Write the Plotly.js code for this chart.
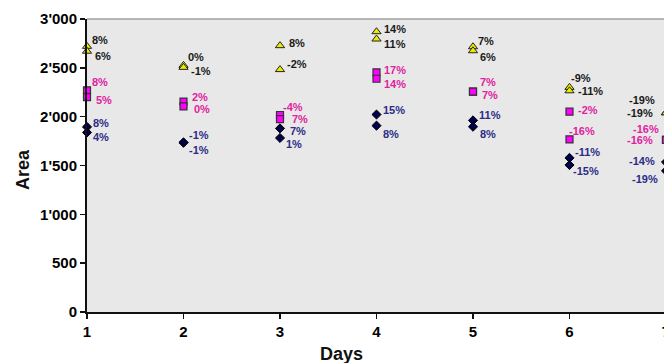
<!DOCTYPE html>
<html>
<head>
<meta charset="utf-8">
<script src="https://cdn.plot.ly/plotly-3.0.1.min.js"></script>
<style>
html, body { margin: 0; padding: 0; overflow: hidden; background: #fff; }
#chart { width: 680px; height: 363px; }
</style>
</head>
<body>
<div id="chart"></div>
<script>
// ---- data ----
const days = [1, 2, 3, 4, 5, 6, 7];

const triUpper = [2720, 2525, 2727, 2870, 2716, 2300, 2040];
const triLower = [2670, 2505, 2482, 2795, 2675, 2265, 2040];
const sqUpper  = [2270, 2155, 2017, 2454, 2256, 2051, 1762];
const sqLower  = [2200, 2105, 1975, 2388, 2256, 1768, 1762];
const diaUpper = [1895, 1735, 1880, 2022, 1962, 1578, 1535];
const diaLower = [1838, 1735, 1782, 1908, 1897, 1505, 1445];

const triUpperLbl = ['8%', '0%', '8%', '14%', '7%', '-9%', '-19%'];
const triLowerLbl = ['6%', '-1%', '-2%', '11%', '6%', '-11%', '-19%'];
const sqUpperLbl  = ['8%', '2%', '-4%', '17%', '7%', '-2%', '-16%'];
const sqLowerLbl  = ['5%', '0%', '7%', '14%', '7%', '-16%', '-16%'];
const diaUpperLbl = ['8%', '-1%', '7%', '15%', '11%', '-11%', '-14%'];
const diaLowerLbl = ['4%', '-1%', '1%', '8%', '8%', '-15%', '-19%'];

const yTickVals = [0, 500, 1000, 1500, 2000, 2500, 3000];
const yTickText = ['0', '500', "1'000", "1'500", "2'000", "2'500", "3'000"];

// ---- label placement (style: pixel offsets from each marker) ----
const labelStyle = {
  triUpper: {dx: [3, 2, 7, 5, 3, -1, -9],   dy: [6, 8, 3, 3, 6, 9, 13]},
  triLower: {dx: [6, 5, 5, 5, 5, 6, -11],   dy: [-5, -4, 6, -5, -6, 0, 0]},
  sqUpper:  {dx: [3, 6, 1, 5, 5, 6, -5],    dy: [8, 5, 8, 2, 10, 2, 11]},
  sqLower:  {dx: [7, 8, 10, 5, 7, -3, -11], dy: [-3, -3, 0, -5, -3, 8, 0]},
  diaUpper: {dx: [4, 3, 8, 4, 4, 3, -9],    dy: [4, 8, -3, 5, 5, 6, 1]},
  diaLower: {dx: [4, 3, 4, 4, 5, 1, -6],    dy: [-5, -7, -6, -8, -7, -6, -8]}
};
const rightSideDay = 7;

const FONT = 'Liberation Sans, Arial, sans-serif';
const triColor = '#1a1a1a', sqColor = '#e0229f', diaColor = '#2c2c86';

const series = [
  {y: triUpper, lbl: triUpperLbl, st: labelStyle.triUpper, col: triColor,
   marker: {symbol: 'triangle-up', size: 8, color: '#ecec00', line: {color: '#222', width: 1}}},
  {y: triLower, lbl: triLowerLbl, st: labelStyle.triLower, col: triColor,
   marker: {symbol: 'triangle-up', size: 8, color: '#ecec00', line: {color: '#222', width: 1}}},
  {y: sqUpper, lbl: sqUpperLbl, st: labelStyle.sqUpper, col: sqColor,
   marker: {symbol: 'square', size: 7, color: '#ff00ff', line: {color: '#333', width: 1.2}}},
  {y: sqLower, lbl: sqLowerLbl, st: labelStyle.sqLower, col: sqColor,
   marker: {symbol: 'square', size: 7, color: '#ff00ff', line: {color: '#333', width: 1.2}}},
  {y: diaUpper, lbl: diaUpperLbl, st: labelStyle.diaUpper, col: diaColor,
   marker: {symbol: 'diamond', size: 7, color: '#000048', line: {color: '#000', width: 1}}},
  {y: diaLower, lbl: diaLowerLbl, st: labelStyle.diaLower, col: diaColor,
   marker: {symbol: 'diamond', size: 7, color: '#000048', line: {color: '#000', width: 1}}}
];

const traces = series.map(s => ({
  type: 'scatter', mode: 'markers', x: days, y: s.y,
  marker: s.marker, cliponaxis: false, hoverinfo: 'skip', showlegend: false
}));

const annotations = [];
series.forEach(s => {
  days.forEach((d, i) => {
    annotations.push({
      x: d, y: s.y[i], xref: 'x', yref: 'y', text: s.lbl[i], showarrow: false,
      xanchor: d === rightSideDay ? 'right' : 'left', yanchor: 'middle',
      xshift: s.st.dx[i], yshift: s.st.dy[i],
      font: {family: FONT, size: 11, color: s.col, weight: 'bold'}
    });
  });
});

// axis titles
annotations.push({
  text: '<b>Days</b>', xref: 'paper', yref: 'paper', x: (341 - 87) / (666 - 87), y: 0,
  yshift: -42, xanchor: 'center', yanchor: 'middle', showarrow: false,
  font: {family: FONT, size: 18, color: '#111'}
});
annotations.push({
  text: '<b>Area</b>', xref: 'paper', yref: 'paper', x: 0, xshift: -64,
  y: (312 - 170) / (312 - 19), textangle: -90, xanchor: 'center', yanchor: 'middle',
  showarrow: false, font: {family: FONT, size: 18, color: '#111'}
});

const layout = {
  width: 680, height: 363,
  margin: {l: 87, r: 14, t: 19, b: 51},
  paper_bgcolor: '#ffffff', plot_bgcolor: '#e8e8e8',
  xaxis: {
    range: [1, 7], tickvals: days, ticktext: days.map(String),
    showgrid: false, zeroline: false, showline: true, linecolor: '#111', linewidth: 2,
    ticks: 'outside', ticklen: 5, tickwidth: 1.5, tickcolor: '#111',
    tickfont: {family: FONT, size: 15, color: '#000', weight: 'bold'}
  },
  yaxis: {
    range: [0, 3000], tickvals: yTickVals, ticktext: yTickText,
    showgrid: false, zeroline: false, showline: true, linecolor: '#111', linewidth: 2,
    ticks: 'outside', ticklen: 5, tickwidth: 1.5, tickcolor: '#111',
    tickfont: {family: FONT, size: 15, color: '#000', weight: 'bold'}
  },
  shapes: [{type: 'line', xref: 'paper', yref: 'paper', x0: 0, x1: 1, y0: 1, y1: 1,
            line: {color: '#a0a0a0', width: 1.5}}],
  annotations: annotations
};

Plotly.newPlot('chart', traces, layout, {displayModeBar: false, staticPlot: true});
</script>
</body>
</html>
